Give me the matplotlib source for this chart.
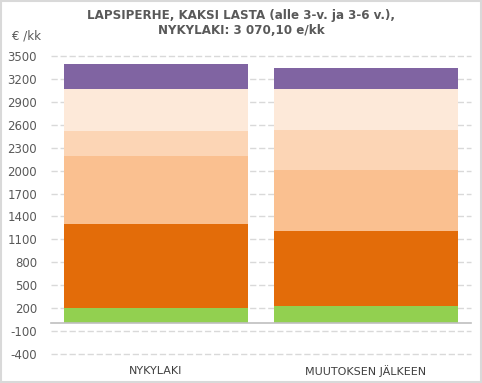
import numpy as np
import matplotlib
matplotlib.use("Agg")
import matplotlib.pyplot as plt
from matplotlib.patches import Rectangle

categories = ["NYKYLAKI", "MUUTOKSEN JÄLKEEN"]
# stacked segments, bottom to top (€/kk)
green = [205, 225]
dark_orange = [1095, 985]
light_orange = [890, 800]
pale_orange = [330, 520]
cream = [550, 540]
purple = [330, 275]

segments = [green, dark_orange, light_orange, pale_orange, cream, purple]
colors = ["#92D050", "#E36C09", "#FAC090", "#FCD5B5", "#FDE9D9", "#8064A2"]
yticks = np.arange(-400, 3501, 300)

fig = plt.figure(figsize=(4.82, 3.83), dpi=100)
ax = fig.add_axes([51 / 482, 1 - 354 / 383, 420 / 482, 298 / 383])

x = np.arange(len(categories))
bottom = np.zeros(len(categories))
for vals, c in zip(segments, colors):
    ax.bar(x, vals, bottom=bottom, width=0.876, color=c, zorder=3)
    bottom += np.array(vals)

ax.set_xlim(-0.5, 1.5)
ax.set_ylim(-400, 3500)
ax.set_yticks(yticks)
ax.set_yticklabels([str(v) for v in yticks], color="#595959", fontsize=8.5)
ax.tick_params(axis="y", length=0, pad=10)
ax.tick_params(axis="x", length=0)
ax.set_xticks([])
ax.grid(axis="y", color="#D9D9D9", linestyle=(0, (4.5, 2)), linewidth=1, zorder=0)
for gl in ax.get_ygridlines():
    gl.set_clip_on(False)
for s in ax.spines.values():
    s.set_visible(False)
ax.axhline(0, color="#BFBFBF", linewidth=1.2, zorder=4, clip_on=False)

for xi, name in zip(x, categories):
    ax.text(xi, -620, name, ha="center", va="center", fontsize=8,
            color="#3F3F3F")

fig.text(0.5, 1 - 15 / 383, "LAPSIPERHE, KAKSI LASTA (alle 3-v. ja 3-6 v.),",
         ha="center", va="center", fontsize=8.6, fontweight="bold", color="#595959")
fig.text(0.5, 1 - 31 / 383, "NYKYLAKI: 3 070,10 e/kk",
         ha="center", va="center", fontsize=8.6, fontweight="bold", color="#595959")
fig.text(41 / 482, 1 - 36 / 383, "€ /kk", ha="right", va="center",
         fontsize=8.5, color="#595959")

fig.patches.append(Rectangle((0.002, 0.003), 0.995, 0.994, transform=fig.transFigure,
                             fill=False, edgecolor="#D9D9D9", linewidth=1.5))

fig.savefig("out.png", dpi=100)
